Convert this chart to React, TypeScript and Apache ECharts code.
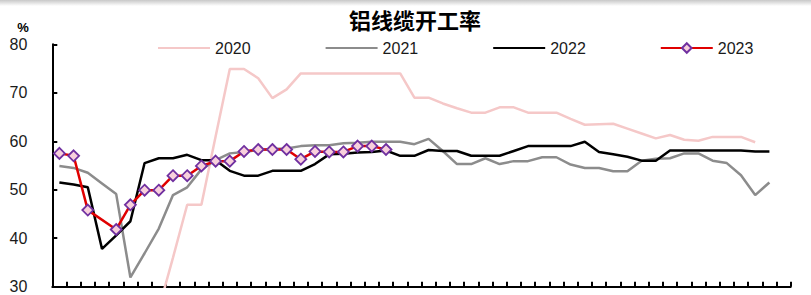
import React, { useEffect, useRef } from "react";
import * as echarts from "echarts";

const weeks: string[] = [
  "W1","W2","W3","W4","W5","W6","W7","W8","W9","W10","W11","W12","W13",
  "W14","W15","W16","W17","W18","W19","W20","W21","W22","W23","W24","W25","W26",
  "W27","W28","W29","W30","W31","W32","W33","W34","W35","W36","W37","W38","W39",
  "W40","W41","W42","W43","W44","W45","W46","W47","W48","W49","W50","W51","W52",
];

const y2020: (number | null)[] = [
  null, null, null, null, null, null, null, 25.4, 36.0, 46.9, 46.9, 61.0, 74.9,
  74.9, 73.0, 68.9, 70.7, 74.0, 74.0, 74.0, 74.0, 74.0, 74.0, 74.0, 74.0, 69.0,
  69.0, 67.8, 66.8, 65.9, 65.9, 67.0, 67.0, 65.9, 65.9, 65.9, 64.6, 63.4, 63.5,
  63.6, 62.6, 61.6, 60.6, 61.3, 60.3, 60.1, 60.9, 60.9, 60.9, 59.8,
];

const y2021: (number | null)[] = [
  54.9, 54.5, 53.5, 51.3, 49.1, 31.9, 36.9, 42.0, 48.9, 50.5, 54.2, 56.1, 57.5,
  57.8, 58.2, 58.4, 58.5, 59.0, 59.2, 59.2, 59.6, 59.7, 59.9, 59.9, 59.9, 59.4,
  60.5, 58.0, 55.3, 55.3, 56.5, 55.3, 55.9, 55.9, 56.7, 56.7, 55.2, 54.5, 54.5,
  53.8, 53.8, 56.0, 56.4, 56.5, 57.5, 57.5, 56.0, 55.5, 53.0, 48.9, 51.5,
];

const y2022: (number | null)[] = [
  51.5, 51.1, 50.5, 37.8, 40.6, 43.5, 55.5, 56.5, 56.5, 57.2, 56.1, 56.1, 53.9,
  52.9, 52.9, 53.9, 53.9, 53.9, 55.3, 57.3, 57.4, 57.7, 57.8, 58.1, 57.0, 57.0,
  58.2, 58.0, 58.0, 57.0, 57.0, 57.0, 58.0, 59.0, 59.0, 59.0, 59.0, 59.9, 57.8,
  57.3, 56.8, 56.0, 56.0, 58.1, 58.1, 58.1, 58.1, 58.1, 58.1, 57.9, 57.9,
];

const y2023: (number | null)[] = [
  57.5, 57.0, 45.8, null, 41.8, 46.9, 49.9, 49.9, 52.9, 52.9, 54.9, 55.9, 55.9,
  57.9, 58.3, 58.3, 58.3, 56.3, 57.9, 57.8, 57.8, 59.0, 59.0, 58.3,
];

const seriesNames = ["2020", "2021", "2022", "2023"];
const yTicks = { min: 30, max: 80, interval: 10 };
const titleText = "铝线缆开工率";
const unitText = "%";

const FONT = 'Arial, "Liberation Sans", sans-serif';

export default function App() {
  const ref = useRef<HTMLDivElement>(null);
  useEffect(() => {
    document.body.style.margin = "0";
    const chart = echarts.init(ref.current!, null, { renderer: "svg" });
    chart.setOption({
      animation: false,
      backgroundColor: "#ffffff",
      grid: { left: 52.3, right: 20.3, top: 44.3, bottom: 8.3, containLabel: false },
      legend: {
        data: [
          { name: seriesNames[0], itemStyle: { opacity: 0 } },
          { name: seriesNames[1], itemStyle: { opacity: 0 } },
          { name: seriesNames[2], itemStyle: { opacity: 0 } },
          { name: seriesNames[3] },
        ],
        left: 152,
        top: 35,
        itemWidth: 52,
        itemHeight: 12,
        itemGap: 74,
        textStyle: { fontSize: 16, fontFamily: FONT, color: "#1a1a1a" },
      },
      graphic: [
        {
          type: "rect",
          left: 0,
          top: 0,
          shape: { width: 811, height: 6 },
          style: {
            fill: new echarts.graphic.LinearGradient(0, 0, 0, 1, [
              { offset: 0, color: "#c8c8c8" },
              { offset: 1, color: "#ffffff" },
            ]),
          },
          silent: true,
        },
        {
          type: "text",
          x: 415,
          y: 19,
          style: {
            text: titleText,
            fontSize: 22,
            fontWeight: "bold",
            fontFamily: '"Noto Sans CJK SC", sans-serif',
            fill: "#000",
            textAlign: "center",
            textVerticalAlign: "middle",
          },
        },
        {
          type: "text",
          x: 23,
          y: 27,
          style: {
            text: unitText,
            fontSize: 13,
            fontWeight: "bold",
            fontFamily: FONT,
            fill: "#000",
            textAlign: "center",
            textVerticalAlign: "middle",
          },
        },
      ],
      xAxis: {
        type: "category",
        data: weeks,
        boundaryGap: true,
        axisLine: { lineStyle: { color: "#000", width: 2 } },
        axisTick: { show: true, inside: true, length: 5, lineStyle: { color: "#000", width: 2 }, interval: 0 },
        axisLabel: { show: false },
        splitLine: { show: false },
      },
      yAxis: {
        type: "value",
        min: yTicks.min,
        max: yTicks.max,
        interval: yTicks.interval,
        axisLine: { show: true, lineStyle: { color: "#000", width: 2 } },
        axisTick: { show: true, inside: true, length: 5, lineStyle: { color: "#000", width: 2 } },
        axisLabel: { fontSize: 16, fontFamily: FONT, color: "#1a1a1a", margin: 25 },
        splitLine: { show: false },
      },
      series: [
        {
          name: "2020",
          type: "line",
          data: y2020,
          symbol: "none",
          lineStyle: { color: "#f5c8c8", width: 2.5 },
          itemStyle: { color: "#f5c8c8" },
        },
        {
          name: "2021",
          type: "line",
          data: y2021,
          symbol: "none",
          lineStyle: { color: "#8c8c8c", width: 2.5 },
          itemStyle: { color: "#8c8c8c" },
        },
        {
          name: "2022",
          type: "line",
          data: y2022,
          symbol: "none",
          lineStyle: { color: "#000000", width: 2.5 },
          itemStyle: { color: "#000000" },
        },
        {
          name: "2023",
          type: "line",
          data: y2023,
          connectNulls: true,
          symbol: "diamond",
          symbolSize: 11,
          showSymbol: true,
          showAllSymbol: true,
          lineStyle: { color: "#e00000", width: 2.5 },
          itemStyle: { color: "#f8d0dc", borderColor: "#7030a0", borderWidth: 1.8 },
        },
      ],
    });
    return () => chart.dispose();
  }, []);
  return <div ref={ref} style={{ width: 811, height: 295 }} />;
}
